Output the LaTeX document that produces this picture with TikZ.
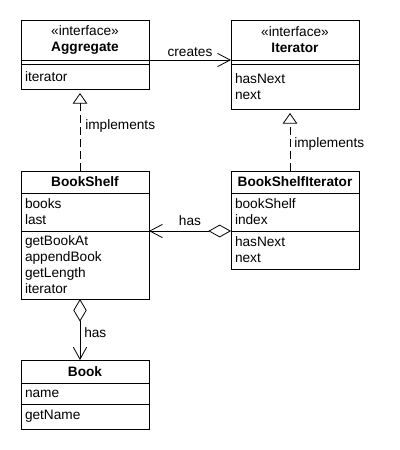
\documentclass[tikz,border=0pt]{standalone}
\usepackage{fontspec}
\setmainfont{Liberation Sans}
\usetikzlibrary{positioning}
\usetikzlibrary{arrows.meta}

\begin{document}
\begin{tikzpicture}[x=0.75pt, y=-0.75pt]

		\tikzstyle{part}  = [rectangle, draw, line width=0.6pt, text width=90pt, inner xsep=3pt, inner ysep=0pt, outer sep=0pt, align=left, font=\fontsize{10.25pt}{12pt}\selectfont]
		\tikzstyle{head}  = [part, align=center]
		\tikzstyle{lbl}   = [inner sep=0pt, font=\fontsize{10.25pt}{12pt}\selectfont]
		\tikzstyle{link}  = [line width=0.6pt]
		\useasboundingbox (0,0) rectangle (400,450);
		% classes
		\node [head, anchor=north west, minimum height=30pt](agg) at (21,20) {«interface»\\\textbf{Aggregate}};
		\node [part, below=0pt of agg, minimum height=3pt](aggattr) {};
		\node [part, below=0pt of aggattr, minimum height=18.75pt](aggops) {iterator};
		\node [head, anchor=north west, minimum height=30pt](iter) at (231,20) {«interface»\\\textbf{Iterator}};
		\node [part, below=0pt of iter, minimum height=3pt](iterattr) {};
		\node [part, below=0pt of iterattr, minimum height=33.75pt](iterops) {hasNext\\next};
		\node [head, anchor=north west, minimum height=16.5pt](shelf) at (21,171) {\textbf{BookShelf}};
		\node [part, below=0pt of shelf, minimum height=28.5pt](shelfattr) {books\\last};
		\node [part, below=0pt of shelfattr, minimum height=51pt](shelfops) {getBookAt\\appendBook\\getLength\\iterator};
		\node [head, anchor=north west, minimum height=16.5pt](bsi) at (231,171) {\textbf{BookShelfIterator}};
		\node [part, below=0pt of bsi, minimum height=28.5pt](bsiattr) {bookShelf\\index};
		\node [part, below=0pt of bsiattr, minimum height=28.5pt](bsiops) {hasNext\\next};
		\node [head, anchor=north west, minimum height=17.25pt](book) at (21,360) {\textbf{Book}};
		\node [part, below=0pt of book, minimum height=15.75pt](bookattr) {name};
		\node [part, below=0pt of bookattr, minimum height=18.75pt](bookops) {getName};
		% labels
		\node [lbl, anchor=south](creates) at (190,57) {creates};
		\node [lbl, anchor=west](impl1) at (85,126) {implements};
		\node [lbl, anchor=west](impl2) at (294,144) {implements};
		\node [lbl](has1) at (190,221) {has};
		\node [lbl, anchor=west](has2) at (84,333) {has};
		% connectors
		\draw [link, -{Straight Barb[length=9.5pt, width=10pt]}] (agg.south east) -- (iter.south west);
		\draw [link, dashed, dash pattern=on 6pt off 3pt, shorten >=3pt, -{Triangle[open, length=8pt, width=11pt]}] ([xshift=-3.75pt]shelf.north) -- ([xshift=-3.75pt]aggops.south);
		\draw [link, dashed, dash pattern=on 6pt off 3pt, shorten >=3pt, -{Triangle[open, length=8pt, width=11pt]}] ([xshift=-3.75pt]bsi.north) -- ([xshift=-3.75pt]iterops.south);
		\draw [link, {Diamond[open, length=17pt, width=9.5pt]}-{Straight Barb[length=9.5pt, width=10pt]}] (bsiattr.south west) -- (shelfattr.south east);
		\draw [link, {Diamond[open, length=17pt, width=10pt]}-{Straight Barb[length=9pt, width=10pt]}] ([xshift=-3.75pt]shelfops.south) -- ([xshift=-3.75pt]book.north);
\end{tikzpicture}
\end{document}
